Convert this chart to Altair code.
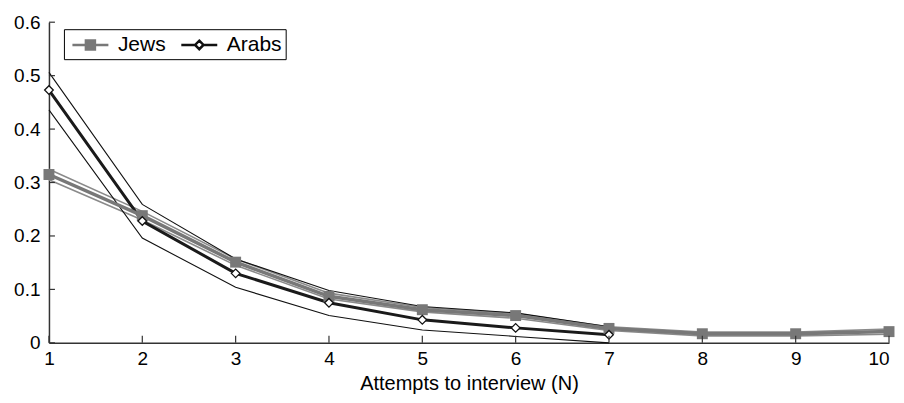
import altair as alt
import pandas as pd

attempts = [1, 2, 3, 4, 5, 6, 7, 8, 9, 10]
jews = [0.315, 0.238, 0.151, 0.087, 0.062, 0.051, 0.027, 0.017, 0.017, 0.021]
jews_upper = [0.325, 0.246, 0.157, 0.093, 0.066, 0.055, 0.030, 0.020, 0.020, 0.026]
jews_lower = [0.305, 0.230, 0.145, 0.082, 0.058, 0.046, 0.023, 0.013, 0.013, 0.016]

arab_attempts = [1, 2, 3, 4, 5, 6, 7]
arabs = [0.473, 0.228, 0.130, 0.075, 0.043, 0.028, 0.015]
arabs_upper = [0.506, 0.259, 0.157, 0.098, 0.068, 0.056, 0.030]
arabs_lower = [0.436, 0.196, 0.104, 0.051, 0.024, 0.012, 0.0]

y_ticks = [0, 0.1, 0.2, 0.3, 0.4, 0.5, 0.6]
series_names = ["Jews", "Arabs"]

rows = []
for name, xs, bands in [
    ("Jews", attempts, {"mean": jews, "upper": jews_upper, "lower": jews_lower}),
    ("Arabs", arab_attempts, {"mean": arabs, "upper": arabs_upper, "lower": arabs_lower}),
]:
    for band, vals in bands.items():
        for xv, yv in zip(xs, vals):
            rows.append({"series": name, "band": band, "x": xv, "y": yv})
df = pd.DataFrame(rows)

FONT = "Liberation Sans"
H = 321

x_enc = alt.X(
    "x:Q",
    scale=alt.Scale(domain=[1, 10], nice=False, zero=False),
    axis=alt.Axis(
        values=attempts, title="Attempts to interview (N)", ticks=False,
        grid=False, labelFlush=False, labelPadding=7, labelFontSize=19,
        labelAlign=alt.ExprRef(expr="datum.value == 10 ? 'right' : 'center'"),
        titleFontSize=20, titleFontWeight="normal", titlePadding=5,
        domainColor="#333", domainWidth=1.5, labelColor="black", titleColor="black",
        labelFont=FONT, titleFont=FONT,
    ),
)
y_enc = alt.Y(
    "y:Q",
    scale=alt.Scale(domain=[0, 0.6], nice=False),
    axis=alt.Axis(
        values=y_ticks, title=None, ticks=False, grid=False, labelFlush=False,
        labelPadding=9, labelFontSize=19, labelColor="black", labelFont=FONT,
        domainColor="#333", domainWidth=1.5,
        labelExpr="datum.value == 0 ? '0' : format(datum.value, '.1f')",
    ),
)

base = alt.Chart(df)

jews_ci = base.transform_filter("datum.series == 'Jews' && datum.band != 'mean'").mark_line(
    color="#8a8a8a", strokeWidth=1.6
).encode(x=x_enc, y=y_enc, detail="band:N")

arabs_ci = base.transform_filter("datum.series == 'Arabs' && datum.band != 'mean'").mark_line(
    color="#111111", strokeWidth=1.1
).encode(x=x_enc, y=y_enc, detail="band:N")

arabs_line = base.transform_filter("datum.series == 'Arabs' && datum.band == 'mean'").mark_line(
    color="#1a1a1a", strokeWidth=3
).encode(x=x_enc, y=y_enc)

jews_line = base.transform_filter("datum.series == 'Jews' && datum.band == 'mean'").mark_line(
    color="#787878", strokeWidth=3.5
).encode(x=x_enc, y=y_enc)

jews_pts = base.transform_filter("datum.series == 'Jews' && datum.band == 'mean'").mark_point(
    shape="square", filled=True, color="#787878", size=120, opacity=1
).encode(x=x_enc, y=y_enc)

arabs_pts = base.transform_filter("datum.series == 'Arabs' && datum.band == 'mean'").mark_point(
    shape="diamond", filled=True, fill="white", stroke="#111111", strokeWidth=1.3, size=75, opacity=1
).encode(x=x_enc, y=y_enc)

# inward ticks
ytick_df = pd.DataFrame({"y": y_ticks})
xtick_df = pd.DataFrame({"x": attempts})
yticks = alt.Chart(ytick_df).mark_rule(color="#333", strokeWidth=1.2).encode(
    y=y_enc, x=alt.value(0), x2=alt.value(6),
)
xticks = alt.Chart(xtick_df).mark_rule(color="#333", strokeWidth=1.2).encode(
    x=x_enc, y=alt.value(H), y2=alt.value(H - 7),
)

# legend (empty data, explicit domains)
jews_path = "M-1.8,0H1.8M-0.45,-0.45H0.45V0.45H-0.45Z"
arabs_path = "M-1.8,0H-0.42M0.42,0H1.8M0,-0.42L0.42,0L0,0.42L-0.42,0Z"
leg = alt.Legend(
    title=None, orient="none", legendX=15, legendY=7, direction="horizontal",
    strokeColor="black", fillColor="white", padding=4, symbolSize=400,
    symbolStrokeWidth=2.5, symbolOffset=11, labelOffset=16, labelFontSize=21,
    labelFont=FONT, labelColor="black", columnPadding=10, symbolOpacity=1,
)
legend_df = pd.DataFrame({"series": series_names})
legend_layer = alt.Chart(legend_df).transform_filter("false").mark_point(filled=True, opacity=1).encode(
    shape=alt.Shape("series:N", scale=alt.Scale(domain=series_names, range=[jews_path, arabs_path]), legend=leg),
    fill=alt.Fill("series:N", scale=alt.Scale(domain=series_names, range=["#787878", "white"]), legend=leg),
    stroke=alt.Stroke("series:N", scale=alt.Scale(domain=series_names, range=["#787878", "#111111"]), legend=leg),
)

chart = alt.layer(
    jews_ci, arabs_ci, arabs_line, jews_line, jews_pts, arabs_pts, xticks, yticks, legend_layer
).properties(
    width=841, height=H,
    padding={"left": 5, "top": 5, "right": 0, "bottom": 0},
).configure(font=FONT, background="white").configure_view(stroke=None)

chart.save("out.html", embed_options={"renderer": "svg", "actions": False})
